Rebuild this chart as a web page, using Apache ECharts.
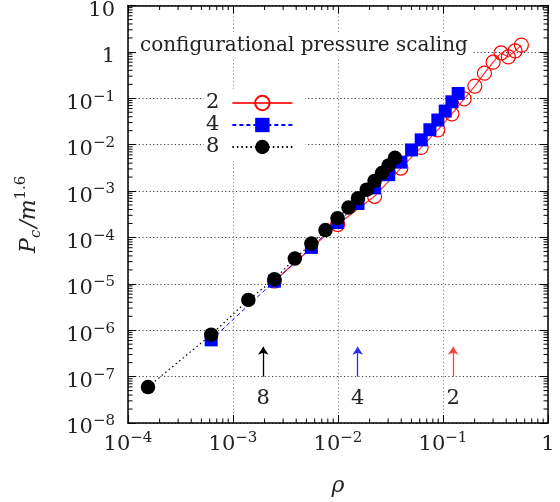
<!DOCTYPE html>
<html><head><meta charset="utf-8">
<script src="https://cdn.jsdelivr.net/npm/echarts@6/dist/echarts.min.js"></script>
<style>html,body{margin:0;padding:0;background:#fff}#c{width:560px;height:502px}</style>
</head><body><div id="c"></div>
<script>
// ---- data ----
const rho8 = [1.55e-4, 6.2e-4, 1.4e-3, 2.48e-3, 3.88e-3, 5.58e-3, 7.6e-3, 9.9e-3, 1.26e-2, 1.55e-2, 1.88e-2, 2.23e-2, 2.62e-2, 3.04e-2, 3.49e-2];
const pc8  = [5.96e-8, 8.0e-7, 4.5e-6, 1.26e-5, 3.5e-5, 7.4e-5, 1.44e-4, 2.6e-4, 4.4e-4, 7.0e-4, 1.07e-3, 1.65e-3, 2.44e-3, 3.57e-3, 5.2e-3];
const rho4 = [6.2e-4, 2.48e-3, 5.58e-3, 9.92e-3, 1.55e-2, 2.23e-2, 3.04e-2, 3.97e-2, 5.02e-2, 6.2e-2, 7.5e-2, 8.93e-2, 0.105, 0.1215, 0.1395];
const pc4  = [6.2e-7, 1.14e-5, 6.1e-5, 2.1e-4, 5.4e-4, 1.17e-3, 2.25e-3, 4.2e-3, 7.7e-3, 1.27e-2, 2.1e-2, 3.4e-2, 5.3e-2, 8.4e-2, 0.127];
const rho2 = [2.48e-3, 9.92e-3, 2.23e-2, 3.97e-2, 6.2e-2, 8.93e-2, 0.1215, 0.159, 0.201, 0.248, 0.300, 0.357, 0.419, 0.486, 0.558];
const pc2  = [1.15e-5, 1.9e-4, 7.7e-4, 3.13e-3, 8.75e-3, 2.08e-2, 4.6e-2, 9.7e-2, 0.183, 0.348, 0.60, 0.95, 0.78, 1.05, 1.4];
const seriesNames = ['2', '4', '8'];
const arrowX = [1.94e-3, 1.54e-2, 0.125];
const arrowLabels = ['8', '4', '2'];
const arrowColors = ['#000000', '#2a2aff', '#ff4040'];
const arrowFrom = 1e-7, arrowTo = 4.4e-7;
const titleText = 'configurational pressure scaling';
const xMin = 1e-4, xMax = 1, yMin = 1e-8, yMax = 10;
const minorMult = [2, 3, 4, 5, 6, 7, 8, 9];
const xDecades = [1e-4, 1e-3, 1e-2, 1e-1];
const yDecades = [1e-8, 1e-7, 1e-6, 1e-5, 1e-4, 1e-3, 1e-2, 1e-1, 1];

const SERIF = 'DejaVu Serif';
const TXT = '#222';
function pow10Label(v) {
  const e = Math.round(Math.log10(v));
  if (e === 0) return '{b|1}';
  if (e === 1) return '{b|10}';
  return '{b|10}{s|' + (e < 0 ? '\u2212' : '') + Math.abs(e) + '}';
}
const labelRich = {
  b: { fontFamily: SERIF, fontSize: 21, color: TXT, lineHeight: 28 },
  s: { fontFamily: SERIF, fontSize: 15, color: TXT, verticalAlign: 'top', lineHeight: 18 }
};

const minorData = [];
xDecades.forEach(d => minorMult.forEach(m => minorData.push([d * m, 1, 0])));
yDecades.forEach(d => minorMult.forEach(m => minorData.push([1e-2, d * m, 1])));

const chart = echarts.init(document.getElementById('c'), null, { renderer: 'canvas' });
const axisLineStyle = { color: '#000', width: 1.5 };
chart.setOption({
  animation: false,
  backgroundColor: '#fff',
  grid: { left: 128, right: 12, top: 5, bottom: 78 },
  title: {
    text: titleText, left: 136, top: 33, padding: [2, 4, 2, 4], backgroundColor: '#fff',
    textStyle: { fontFamily: SERIF, fontWeight: 'normal', fontSize: 20, color: TXT, lineHeight: 22 }
  },
  legend: {
    orient: 'vertical', left: 204, top: 89, align: 'right',
    itemWidth: 60, itemHeight: 18, itemGap: 0,
    backgroundColor: '#fff', padding: [3, 12, 3, 2],
    data: seriesNames,
    textStyle: { fontFamily: SERIF, fontSize: 21, color: TXT, lineHeight: 10, padding: [12, 8, 0, 0] }
  },
  xAxis: [{
    type: 'log', min: xMin, max: xMax, position: 'bottom',
    name: '\u03c1', nameLocation: 'middle', nameGap: 52,
    nameTextStyle: { fontFamily: SERIF, fontStyle: 'italic', fontSize: 22, color: TXT },
    axisLine: { lineStyle: axisLineStyle },
    axisTick: { inside: true, length: 8, lineStyle: { color: '#000', width: 1 } },
    axisLabel: { interval: 0, margin: 8, formatter: pow10Label, rich: labelRich, showMinLabel: true, showMaxLabel: true },
    splitLine: { show: true, lineStyle: { type: [1.2, 2.4], color: '#888', width: 1 } }
  }, {
    type: 'log', min: xMin, max: xMax, position: 'top',
    axisLine: { lineStyle: axisLineStyle },
    axisTick: { inside: true, length: 8, lineStyle: { color: '#000', width: 1 } },
    axisLabel: { show: false }, splitLine: { show: false }
  }],
  yAxis: [{
    type: 'log', min: yMin, max: yMax, position: 'left',
    name: '{i|P}{sub|c}{i|/m}{sup|1.6}', nameLocation: 'middle', nameRotate: 90, nameGap: 84,
    nameTextStyle: {
      rich: {
        i: { fontFamily: SERIF, fontStyle: 'italic', fontSize: 22, color: TXT, lineHeight: 30 },
        sub: { fontFamily: SERIF, fontStyle: 'italic', fontSize: 15, color: TXT, verticalAlign: 'bottom', lineHeight: 18, padding: [0, 2, 0, 0] },
        sup: { fontFamily: SERIF, fontSize: 15, color: TXT, verticalAlign: 'top', lineHeight: 18 }
      }
    },
    axisLine: { lineStyle: axisLineStyle },
    axisTick: { inside: true, length: 8, lineStyle: { color: '#000', width: 1 } },
    axisLabel: { interval: 0, margin: 13, formatter: pow10Label, rich: labelRich, padding: [10, 0, 0, 0], showMinLabel: true, showMaxLabel: true },
    splitLine: { show: true, lineStyle: { type: [1.2, 2.4], color: '#444', width: 1 } }
  }, {
    type: 'log', min: yMin, max: yMax, position: 'right',
    axisLine: { lineStyle: axisLineStyle },
    axisTick: { inside: true, length: 8, lineStyle: { color: '#000', width: 1 } },
    axisLabel: { show: false }, splitLine: { show: false }
  }],
  series: [
    {
      name: seriesNames[0], type: 'line', z: 3,
      data: rho2.map((x, i) => [x, pc2[i]]),
      symbol: 'circle', symbolSize: 14,
      itemStyle: { color: 'rgba(255,255,255,0)', borderColor: '#ff0000', borderWidth: 1.2 },
      lineStyle: { color: '#ff3030', width: 1.2, type: 'solid' }
    },
    {
      name: seriesNames[1], type: 'line', z: 4,
      data: rho4.map((x, i) => [x, pc4[i]]),
      symbol: 'rect', symbolSize: 13,
      itemStyle: { color: '#0000ff' },
      lineStyle: { color: '#0000ff', width: 1, type: [4, 3] }
    },
    {
      name: seriesNames[2], type: 'line', z: 5,
      data: rho8.map((x, i) => [x, pc8[i]]),
      symbol: 'circle', symbolSize: 14.5,
      itemStyle: { color: '#000000' },
      lineStyle: { color: '#000000', width: 1.2, type: [1.5, 3] }
    },
    {
      type: 'scatter', data: [], silent: true, z: 6,
      markLine: {
        silent: true, animation: false,
        symbol: ['none', 'arrow'], symbolSize: 8,
        lineStyle: { type: 'solid', width: 1.3 },
        label: { show: true, position: 'start', distance: 11, fontFamily: SERIF, fontSize: 21, color: TXT },
        data: arrowX.map((x, i) => [
          { coord: [x, arrowFrom], lineStyle: { color: arrowColors[i] }, itemStyle: { color: arrowColors[i] }, label: { formatter: arrowLabels[i] } },
          { coord: [x, arrowTo] }
        ])
      }
    },
    {
      type: 'custom', silent: true, z: 7, clip: false,
      data: minorData,
      renderItem: function (params, api) {
        const cs = params.coordSys; const L = 4.5;
        const st = { stroke: '#000', lineWidth: 1 };
        if (api.value(2) === 0) {
          const px = api.coord([api.value(0), 1])[0];
          return { type: 'group', children: [
            { type: 'line', shape: { x1: px, y1: cs.y + cs.height, x2: px, y2: cs.y + cs.height - L }, style: st },
            { type: 'line', shape: { x1: px, y1: cs.y, x2: px, y2: cs.y + L }, style: st }
          ]};
        } else {
          const py = api.coord([1e-2, api.value(1)])[1];
          return { type: 'group', children: [
            { type: 'line', shape: { x1: cs.x, y1: py, x2: cs.x + L, y2: py }, style: st },
            { type: 'line', shape: { x1: cs.x + cs.width, y1: py, x2: cs.x + cs.width - L, y2: py }, style: st }
          ]};
        }
      }
    }
  ]
});
</script>
</body></html>
